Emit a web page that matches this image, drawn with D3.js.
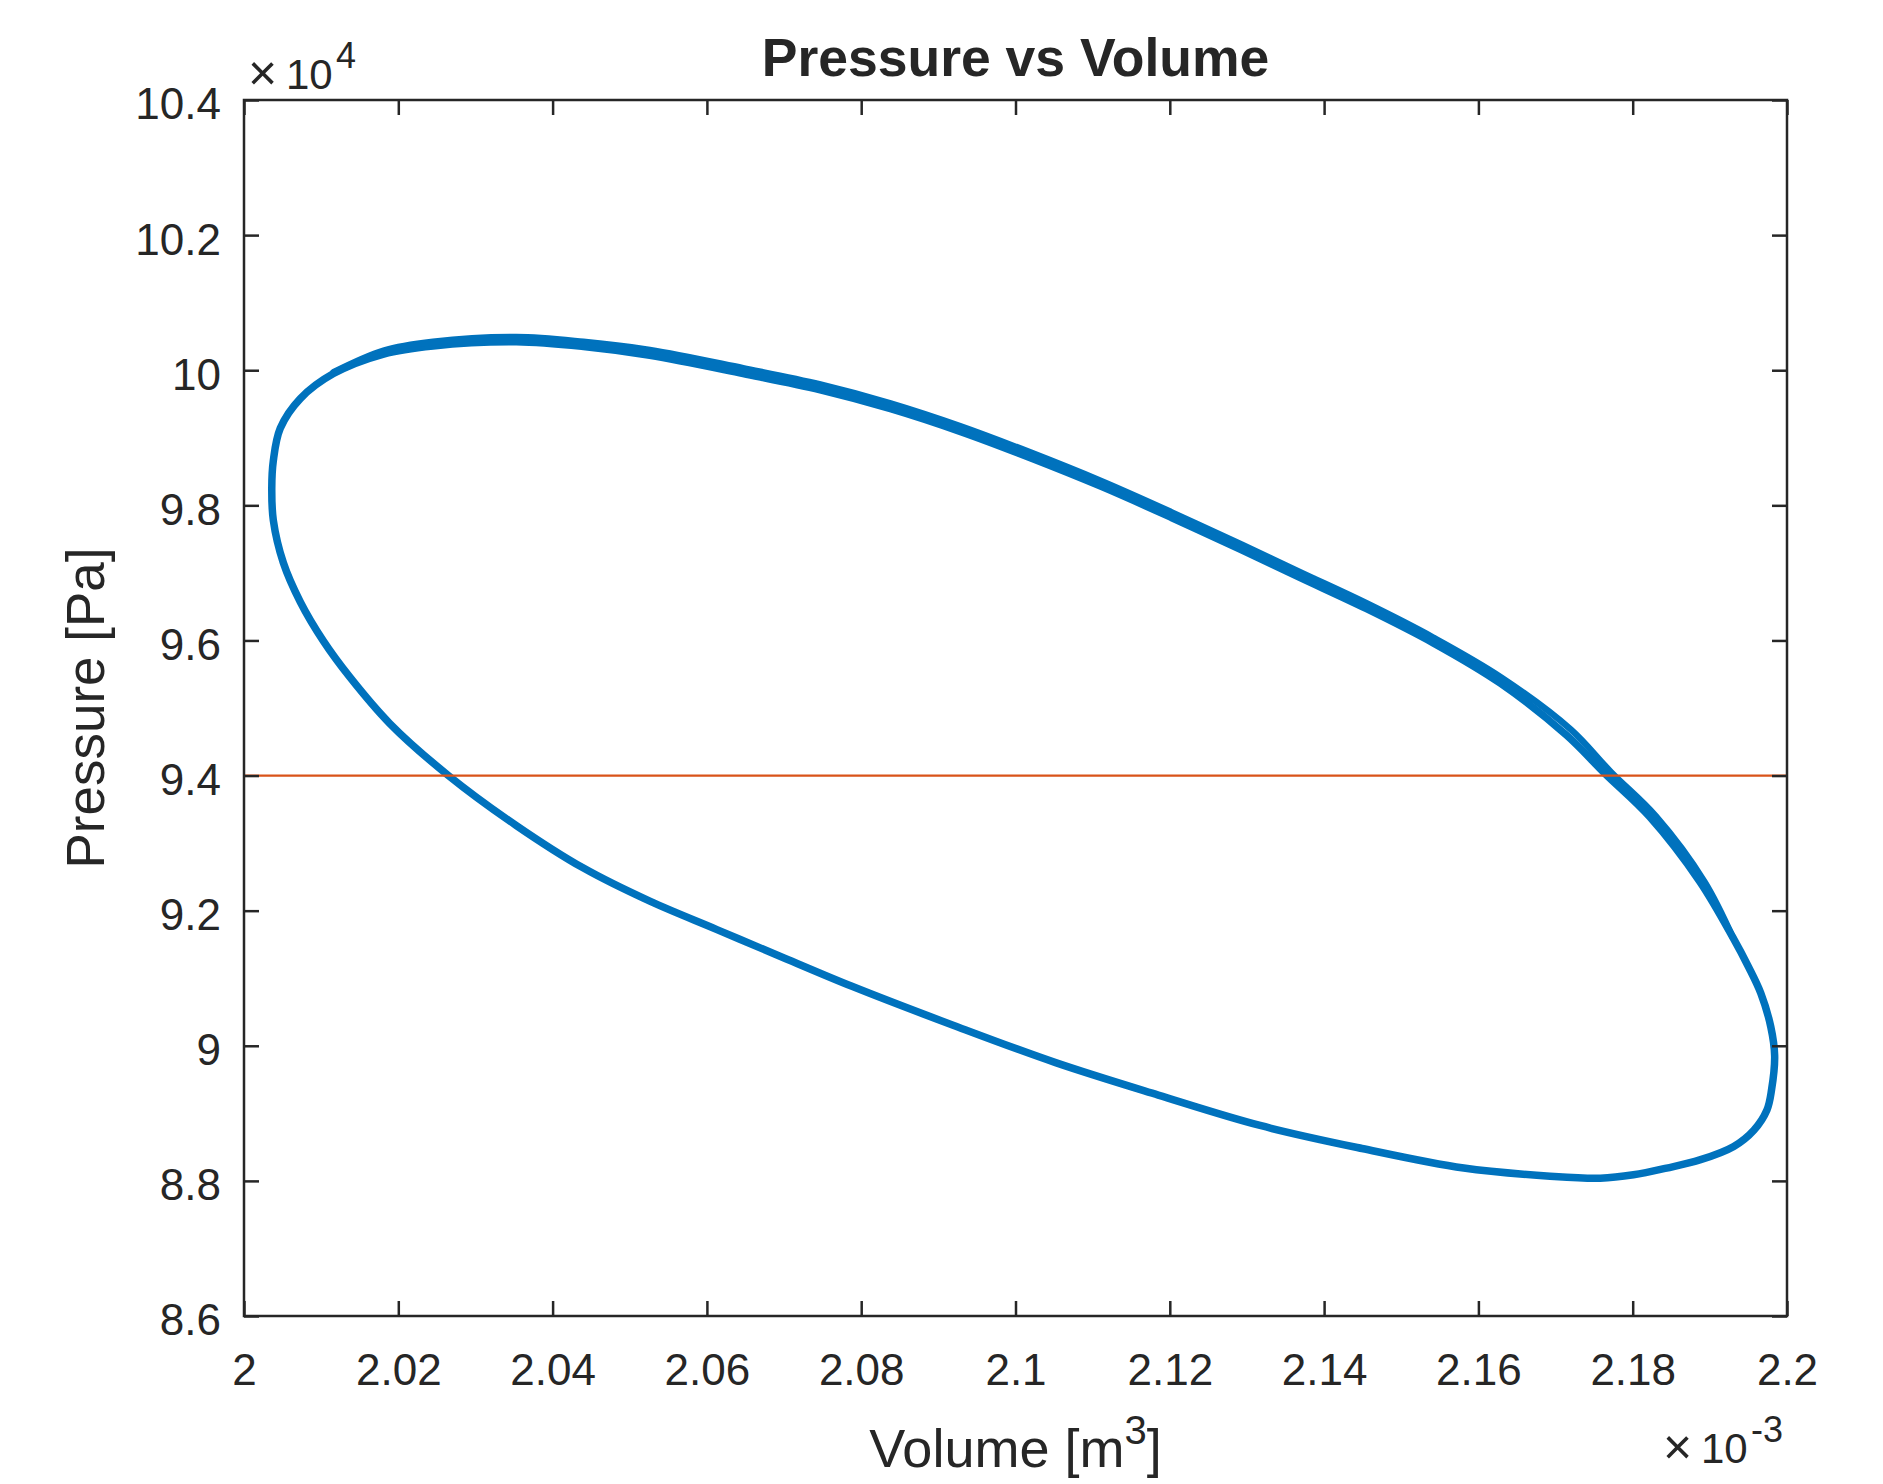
<!DOCTYPE html>
<html>
<head>
<meta charset="utf-8">
<title>Pressure vs Volume</title>
<script src="https://cdn.jsdelivr.net/npm/d3@7"></script>
<style>
  body { margin: 0; background: #fff; }
  svg text { font-family: "Liberation Sans", Arial, Helvetica, sans-serif; fill: #262626; }
</style>
</head>
<body>
<svg id="main-chart-svg" width="1883" height="1484"></svg>
<script>
let volume = [
    2.0036, 2.0038, 2.0047, 2.0073, 2.0116, 2.0181, 2.0245, 2.0353, 2.0440, 2.0526,
    2.0647, 2.0747, 2.0838, 2.0929, 2.1020, 2.1111, 2.1202, 2.1293, 2.1369, 2.1455,
    2.1542, 2.1628, 2.1714, 2.1764, 2.1822, 2.1887, 2.1930, 2.1950, 2.1966, 2.1979,
    2.1984, 2.1980, 2.1974, 2.1957, 2.1931, 2.1887, 2.1844, 2.1801, 2.1758, 2.1693,
    2.1581, 2.1449, 2.1317, 2.1185, 2.1052, 2.0920, 2.0788, 2.0700, 2.0613, 2.0526,
    2.0440, 2.0353, 2.0265, 2.0189, 2.0137, 2.0103, 2.0073, 2.0051, 2.0038
];
let pressure = [
    9.826, 9.866, 9.914, 9.958, 9.995, 10.024, 10.036, 10.042, 10.035, 10.022,
    9.995, 9.971, 9.943, 9.909, 9.870, 9.828, 9.782, 9.734, 9.693, 9.647,
    9.596, 9.537, 9.460, 9.403, 9.339, 9.243, 9.160, 9.117, 9.078, 9.028,
    8.985, 8.935, 8.905, 8.875, 8.851, 8.831, 8.819, 8.809, 8.804, 8.807,
    8.819, 8.848, 8.882, 8.927, 8.975, 9.030, 9.088, 9.130, 9.172, 9.214,
    9.263, 9.326, 9.400, 9.477, 9.546, 9.599, 9.657, 9.715, 9.778
];

// the later cycles drift a little: outer edge of the thick upper band
let volume2 = [
    2.0116, 2.0181, 2.0245, 2.0353, 2.0440, 2.0526, 2.0647, 2.0747, 2.0838, 2.0929,
    2.1020, 2.1111, 2.1202, 2.1293, 2.1369, 2.1455, 2.1542, 2.1630, 2.1720, 2.1772,
    2.1830, 2.1893, 2.1930
];
let pressure2 = [
    9.997, 10.029, 10.042, 10.049, 10.042, 10.030, 10.003, 9.979, 9.951, 9.917,
    9.878, 9.836, 9.790, 9.742, 9.701, 9.655, 9.604, 9.545, 9.468, 9.405,
    9.340, 9.243, 9.160
];

let refPressure = 9.4;

let xTicks = [2, 2.02, 2.04, 2.06, 2.08, 2.1, 2.12, 2.14, 2.16, 2.18, 2.2];
let xTickLabels = ["2", "2.02", "2.04", "2.06", "2.08", "2.1", "2.12", "2.14", "2.16", "2.18", "2.2"];
let yTicks = [8.6, 8.8, 9, 9.2, 9.4, 9.6, 9.8, 10, 10.2, 10.4];
let yTickLabels = ["8.6", "8.8", "9", "9.2", "9.4", "9.6", "9.8", "10", "10.2", "10.4"];

class PVChart {

    constructor(svgId) {
        this.svg = d3.select(svgId);
        this.left = 244;
        this.right = 1787;
        this.top = 100;
        this.bottom = 1316;
    }

    createChart()
    {
        let svg = this.svg;
        let ink = "#262626";

        let xScale = d3
        .scaleLinear()
        .domain([2, 2.2])
        .range([this.left, this.right]);

        let yScale = d3
        .scaleLinear()
        .domain([8.6, 10.4])
        .range([this.bottom, this.top]);

        // data first, the box goes on top
        let loopLine = d3.line()
        .x((d) => xScale(d[0]))
        .y((d) => yScale(d[1]))
        .curve(d3.curveCatmullRomClosed.alpha(0.5));

        let openLine = d3.line()
        .x((d) => xScale(d[0]))
        .y((d) => yScale(d[1]))
        .curve(d3.curveCatmullRom.alpha(0.5));

        let loop = volume.map((v, i) => [v, pressure[i]]);
        let loop2 = volume2.map((v, i) => [v, pressure2[i]]);

        svg.append("path")
        .attr("d", loopLine(loop))
        .attr("fill", "none")
        .attr("stroke", "#0072BD")
        .attr("stroke-width", 7.5)
        .attr("stroke-linejoin", "round");

        svg.append("path")
        .attr("d", openLine(loop2))
        .attr("fill", "none")
        .attr("stroke", "#0072BD")
        .attr("stroke-width", 6.5)
        .attr("stroke-linecap", "round")
        .attr("stroke-linejoin", "round");

        svg.append("line")
        .attr("x1", xScale(2))
        .attr("x2", xScale(2.2))
        .attr("y1", yScale(refPressure))
        .attr("y2", yScale(refPressure))
        .attr("stroke", "#D95319")
        .attr("stroke-width", 2.2);

        // axes, ticks pointing inwards on all four sides
        let tick = 15;

        let xAxis = d3.axisBottom(xScale)
        .tickValues(xTicks)
        .tickFormat((d, i) => xTickLabels[i])
        .tickSizeInner(-tick)
        .tickSizeOuter(0)
        .tickPadding(38);

        let yAxis = d3.axisLeft(yScale)
        .tickValues(yTicks)
        .tickFormat((d, i) => yTickLabels[i])
        .tickSizeInner(-tick)
        .tickSizeOuter(0)
        .tickPadding(23);

        let xTop = d3.axisTop(xScale).tickValues(xTicks).tickFormat("").tickSizeInner(-tick).tickSizeOuter(0);
        let yRight = d3.axisRight(yScale).tickValues(yTicks).tickFormat("").tickSizeInner(-tick).tickSizeOuter(0);

        let gx = svg.append("g")
        .attr("transform", "translate(0," + this.bottom + ")")
        .call(xAxis);

        let gy = svg.append("g")
        .attr("transform", "translate(" + this.left + ",0)")
        .call(yAxis);

        let gxt = svg.append("g")
        .attr("transform", "translate(0," + this.top + ")")
        .call(xTop);

        let gyr = svg.append("g")
        .attr("transform", "translate(" + this.right + ",0)")
        .call(yRight);

        [gx, gy, gxt, gyr].forEach((g) => {
            g.select(".domain").remove();
            g.selectAll(".tick line").attr("stroke", ink).attr("stroke-width", 2.5);
            g.selectAll(".tick text")
            .attr("font-size", 44)
            .attr("font-family", "Liberation Sans, Arial, sans-serif")
            .attr("fill", ink);
        });
        gy.selectAll(".tick text").attr("dy", "0.43em");

        svg.append("rect")
        .attr("x", this.left)
        .attr("y", this.top)
        .attr("width", this.right - this.left)
        .attr("height", this.bottom - this.top)
        .attr("fill", "none")
        .attr("stroke", ink)
        .attr("stroke-width", 2.5);

        // exponent labels
        svg.append("text").attr("x", 248).attr("y", 90).attr("font-size", 50).text("\u00d7");
        svg.append("text").attr("x", 286).attr("y", 89).attr("font-size", 42).text("10");
        svg.append("text").attr("x", 336).attr("y", 68).attr("font-size", 36).text("4");

        svg.append("text").attr("x", 1663).attr("y", 1464).attr("font-size", 50).text("\u00d7");
        svg.append("text").attr("x", 1701).attr("y", 1463).attr("font-size", 42).text("10");
        svg.append("text").attr("x", 1751).attr("y", 1442).attr("font-size", 36).text("-3");

        // title and axis labels
        svg.append("text")
        .attr("x", (this.left + this.right) / 2)
        .attr("y", 76)
        .attr("text-anchor", "middle")
        .attr("font-size", 53.5)
        .attr("font-weight", "bold")
        .attr("fill", "#000")
        .text("Pressure vs Volume");

        let xl = svg.append("text")
        .attr("x", (this.left + this.right) / 2)
        .attr("y", 1467)
        .attr("text-anchor", "middle")
        .attr("font-size", 54);
        xl.append("tspan").text("Volume [m");
        xl.append("tspan").attr("dy", -23).attr("font-size", 40).text("3");
        xl.append("tspan").attr("dy", 23).text("]");

        svg.append("text")
        .attr("transform", "translate(104," + (this.top + this.bottom) / 2 + ") rotate(-90)")
        .attr("text-anchor", "middle")
        .attr("font-size", 53)
        .text("Pressure [Pa]");
    }
}

let chart = new PVChart("#main-chart-svg");
chart.createChart();
</script>
</body>
</html>
